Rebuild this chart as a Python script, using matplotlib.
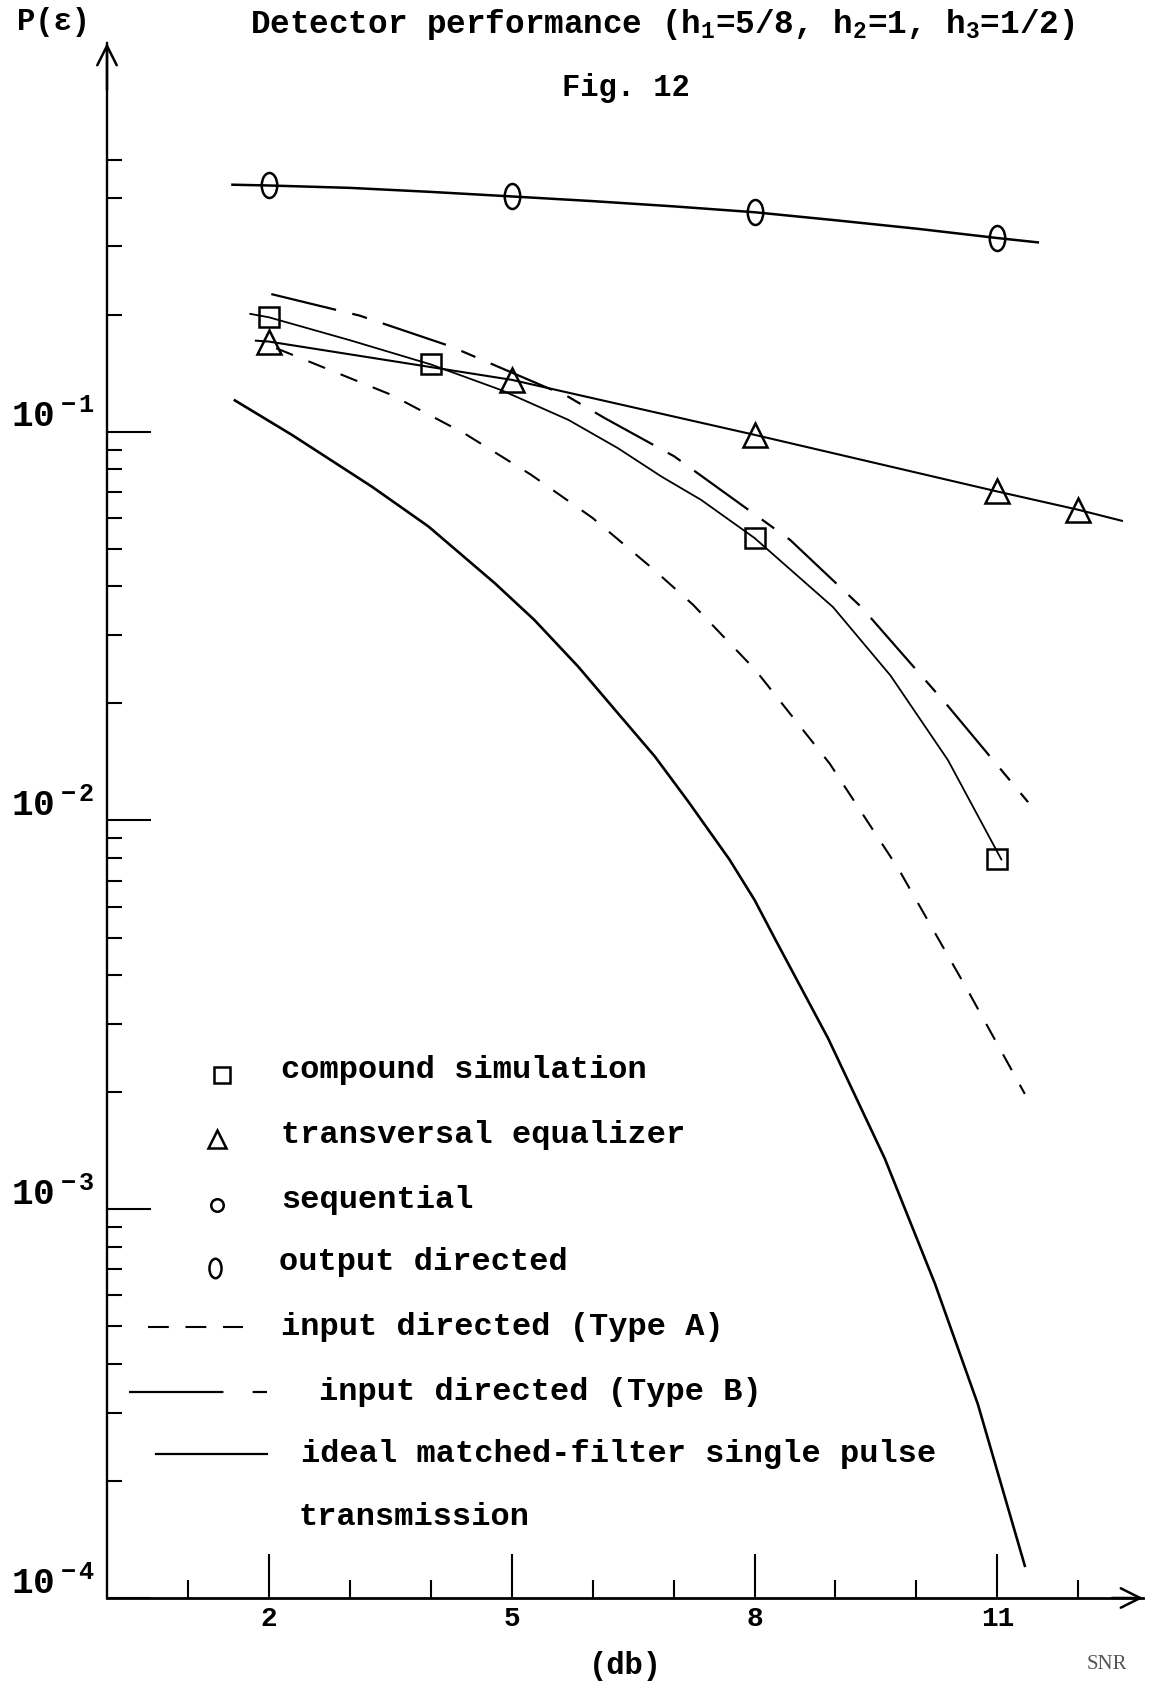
import numpy as np
import matplotlib.pyplot as plt
from matplotlib.path import Path
from matplotlib.lines import Line2D
from matplotlib.transforms import Affine2D, ScaledTranslation
from matplotlib.ticker import FixedLocator, NullFormatter

plt.rcParams['font.family'] = ['Liberation Mono', 'DejaVu Sans Mono']
plt.rcParams['font.weight'] = 'bold'
plt.rcParams['mathtext.fontset'] = 'custom'
plt.rcParams['mathtext.rm'] = 'Liberation Mono:bold'
plt.rcParams['mathtext.it'] = 'Liberation Mono:bold'
plt.rcParams['mathtext.bf'] = 'Liberation Mono:bold'
plt.rcParams['lines.scale_dashes'] = False

W, H = 1153, 1685

# output directed (ovals)
out_x = [2, 5, 8, 11]
out_p = [0.430, 0.403, 0.367, 0.315]
out_line_x = [1.55, 2, 3, 4, 5, 6, 7, 8, 9, 10, 11, 11.5]
out_line_p = [0.432, 0.430, 0.424, 0.414, 0.403, 0.392, 0.380, 0.367, 0.350, 0.333, 0.315, 0.307]

# compound simulation (squares)
comp_x = [2, 4, 8, 11]
comp_p = [0.197, 0.149, 0.0533, 0.00794]
comp_line_x = [1.77, 2, 3, 4, 4.87, 5.70, 6.31, 6.85, 7.34, 8, 8.97, 9.68, 10.39, 11.05]
comp_line_p = [0.201, 0.197, 0.172, 0.149, 0.128, 0.1073, 0.0908, 0.0767, 0.0668, 0.0533,
               0.0354, 0.0236, 0.0143, 0.00794]

# transversal equalizer (triangles)
trans_x = [2, 5, 8, 11, 12]
trans_p = [0.1706, 0.136, 0.0982, 0.0702, 0.063]
trans_line_x = [1.84, 2, 5, 8, 11, 12, 12.54]
trans_line_p = [0.1715, 0.1706, 0.136, 0.0982, 0.0702, 0.063, 0.059]

# input directed (Type B)
typeB_x = [2.03, 3.12, 4.24, 5.70, 6.15, 7.01, 8.44, 9.32, 10.39, 11.38]
typeB_p = [0.226, 0.199, 0.166, 0.123, 0.1084, 0.0864, 0.0527, 0.0354, 0.0197, 0.01115]

# input directed (Type A)
typeA_x = [2.09, 3.51, 4.42, 5.24, 6.0, 6.75, 7.24, 8.01, 8.93, 9.78, 10.63, 11.34]
typeA_p = [0.164, 0.1245, 0.0989, 0.0775, 0.060, 0.0443, 0.0359, 0.0244, 0.0140, 0.0075,
           0.00367, 0.00198]

# ideal matched-filter single pulse transmission
ideal_x = [1.58, 2.28, 2.81, 3.27, 3.97, 4.79, 5.28, 5.82, 6.31, 6.77, 7.18, 7.69, 8.0,
           8.26, 8.91, 9.61, 10.23, 10.76, 11.34]
ideal_p = [0.1204, 0.0983, 0.0834, 0.0723, 0.0571, 0.0408, 0.0328, 0.0249, 0.0189, 0.0146,
           0.0112, 0.00794, 0.00625, 0.00493, 0.00275, 0.00135, 6.43e-4, 3.15e-4, 1.21e-4]

x_major = [2, 5, 8, 11]
x_minor = [1, 3, 4, 6, 7, 9, 10, 12]
y_major = [1e-4, 1e-3, 1e-2, 1e-1]
y_labels = [r'$\mathregular{10^{\,-4}}$', r'$\mathregular{10^{\,-3}}$',
            r'$\mathregular{10^{\,-2}}$', r'$\mathregular{10^{\,-1}}$']

legend_labels = ['compound simulation', 'transversal equalizer', 'sequential',
                 'output directed', 'input directed (Type A)', 'input directed (Type B)',
                 'ideal matched-filter single pulse', 'transmission']

oval = Path.unit_circle().transformed(Affine2D().scale(0.62, 1.0))
dashA = (0, (13, 12))
dashB = (0, (48, 12, 11, 12))

fig = plt.figure(figsize=(W / 100, H / 100), dpi=100)
ax = fig.add_axes([107 / W, 1 - 1598 / H, 1036 / W, 1555 / H])
ax.set_yscale('log')
ax.set_xlim(0, 12.8)
ax.set_ylim(1e-4, 1)

ax.plot(out_line_x, out_line_p, color='black', lw=1.8)
ax.plot(out_x, out_p, ls='none', marker=oval, ms=18, mfc='none', mec='black', mew=1.8)

ax.plot(comp_line_x, comp_line_p, color='black', lw=1.3)
ax.plot(comp_x, comp_p, ls='none', marker='s', ms=14, mfc='none', mec='black', mew=1.8)

ax.plot(trans_line_x, trans_line_p, color='black', lw=1.5)
ax.plot(trans_x, trans_p, ls='none', marker='^', ms=17, mfc='none', mec='black', mew=1.8)

ax.plot(typeB_x, typeB_p, color='black', lw=1.6, linestyle=dashB)
ax.plot(typeA_x, typeA_p, color='black', lw=1.5, linestyle=dashA)
ax.plot(ideal_x, ideal_p, color='black', lw=1.9)

for s in ['top', 'right']:
    ax.spines[s].set_visible(False)
ax.spines['left'].set_linewidth(1.7)
ax.spines['bottom'].set_linewidth(2.0)

ax.xaxis.set_major_locator(FixedLocator(x_major))
ax.xaxis.set_minor_locator(FixedLocator(x_minor))
ax.set_xticklabels([str(v) for v in x_major])
ax.xaxis.set_minor_formatter(NullFormatter())
ax.tick_params(axis='x', which='major', direction='in', length=32, width=1.5, pad=6, labelsize=20)
ax.tick_params(axis='x', which='minor', direction='in', length=13, width=1.5)

y_minor = [m * 10.0 ** e for e in (-4, -3, -2) for m in range(2, 10)] + [0.2, 0.3, 0.4, 0.5]
ax.yaxis.set_major_locator(FixedLocator(y_major))
ax.yaxis.set_minor_locator(FixedLocator(y_minor))
ax.set_yticklabels(y_labels)
ax.yaxis.set_minor_formatter(NullFormatter())
ax.tick_params(axis='y', which='major', direction='in', length=32, width=1.5, pad=9, labelsize=26)
ax.tick_params(axis='y', which='minor', direction='in', length=11, width=1.5)
for lab in ax.get_yticklabels():
    lab.set_transform(lab.get_transform() + ScaledTranslation(0, 13 / 72, fig.dpi_scale_trans))

# axis arrows
arrow = dict(arrowstyle='->,head_length=0.7,head_width=0.35', lw=1.8,
             color='black', shrinkA=0, shrinkB=0, mutation_scale=20)
ax.annotate('', xy=(1, 0), xytext=(0.97, 0), xycoords='axes fraction', arrowprops=arrow)
ax.annotate('', xy=(0, 1), xytext=(0, 0.97), xycoords='axes fraction', arrowprops=arrow)


def fx(px):
    return px / W


def fy(py):
    return 1 - py / H


fig.text(fx(662), fy(24), r'Detector performance (h$_1$=5/8, h$_2$=1, h$_3$=1/2)',
         ha='center', va='center', fontsize=23.5)
fig.text(fx(626), fy(88), 'Fig. 12', ha='center', va='center', fontsize=22)
fig.text(fx(54), fy(22), 'P(ε)', ha='center', va='center', fontsize=22)
fig.text(fx(625), fy(1666), '(db)', ha='center', va='center', fontsize=22)
fig.text(fx(1107), fy(1664), 'SNR', ha='center', va='center', fontsize=15,
         family='Liberation Serif', weight='normal', color='#555555')

# legend, drawn by hand as in the original
mk = dict(ls='none', mfc='none', mec='black', mew=1.8, transform=fig.transFigure)
fig.add_artist(Line2D([fx(222)], [fy(1075)], marker='s', ms=12, **mk))
fig.add_artist(Line2D([fx(217)], [fy(1139)], marker='^', ms=13, **mk))
fig.add_artist(Line2D([fx(217)], [fy(1205)], marker='o', ms=9, **mk))
fig.add_artist(Line2D([fx(215)], [fy(1268)], marker=oval, ms=14, **mk))
fig.add_artist(Line2D([fx(148), fx(243)], [fy(1327), fy(1327)], color='black', lw=1.5,
                      linestyle=(0, (15, 12)), transform=fig.transFigure))
fig.add_artist(Line2D([fx(129), fx(267)], [fy(1392), fy(1392)], color='black', lw=1.6,
                      linestyle=(0, (68, 21, 11, 30)), transform=fig.transFigure))
fig.add_artist(Line2D([fx(156), fx(267)], [fy(1454), fy(1454)], color='black', lw=1.6,
                      transform=fig.transFigure))

legend_pos = [(281, 1070), (281, 1135), (281, 1200), (279, 1262),
              (281, 1327), (319, 1392), (301, 1454), (299, 1517)]
for lab, (px, py) in zip(legend_labels, legend_pos):
    fig.text(fx(px), fy(py), lab, ha='left', va='center', fontsize=23)

fig.savefig('out.png', dpi=100)
